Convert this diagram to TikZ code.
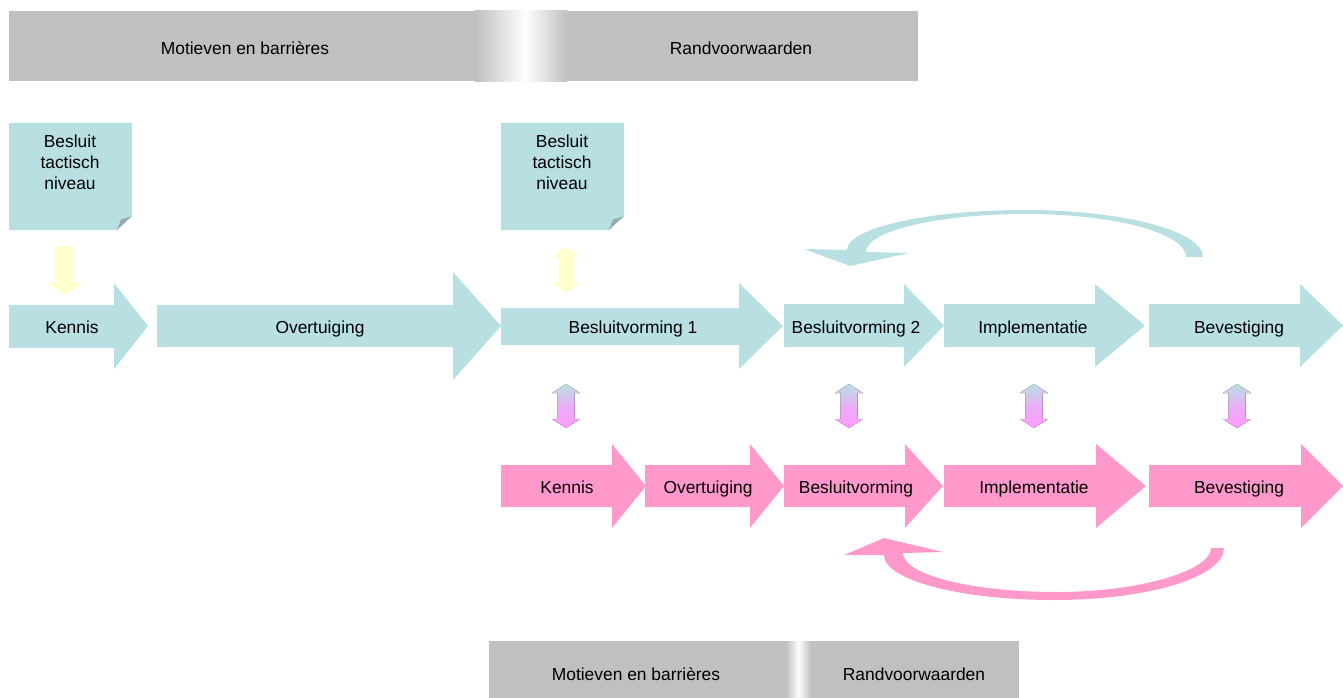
\documentclass[tikz,border=0pt]{standalone}
\usepackage{fontspec}
\setmainfont{Liberation Sans}
\definecolor{bluec}{RGB}{184,223,226}
\definecolor{pinkc}{RGB}{255,153,204}
\definecolor{grayc}{RGB}{192,192,192}
\definecolor{yellowc}{RGB}{255,255,204}
\definecolor{foldc}{RGB}{150,172,175}
\definecolor{violc}{RGB}{255,153,255}
% block arrow: style, x1, xhead, xtip, shaft top, shaft bottom, head top, head bottom
\newcommand\blockarrow[8]{\fill[#1] (#2,#5) -- (#3,#5) -- (#3,#7) -- (#4,{(#7+#8)/2}) -- (#3,#8) -- (#3,#6) -- (#2,#6) -- cycle;}
% double vertical arrow: style, cx, ytop, ybottom, half head width, half shaft width, head length
\newcommand\dblarrow[7]{\fill[#1] (#2,#3) -- ({#2+#5},{#3+#7}) -- ({#2+#6},{#3+#7}) -- ({#2+#6},{#4-#7}) -- ({#2+#5},{#4-#7}) -- (#2,#4) -- ({#2-#5},{#4-#7}) -- ({#2-#6},{#4-#7}) -- ({#2-#6},{#3+#7}) -- ({#2-#5},{#3+#7}) -- cycle;}
\begin{document}
\begin{tikzpicture}[x=1pt,y=-1pt,font=\fontsize{17.4}{21}\selectfont,
  lbl/.style={anchor=base,inner sep=0pt,text=black},
  notelbl/.style={anchor=north,inner sep=0pt,align=center,text=black},
  bluefill/.style={fill=bluec},
  pinkfill/.style={fill=pinkc},
  grayfill/.style={fill=grayc},
  foldfill/.style={fill=foldc},
  yellowfill/.style={fill=yellowc},
  mixfill/.style={top color=bluec,bottom color=violc,middle color={violc!70!bluec}}]
\useasboundingbox (0,0) rectangle (1343,698);

% ---- top bar ----
\fill[grayfill] (9,11) rectangle (476,81);
\fill[grayfill] (566,11) rectangle (918,81);
\shade[left color=grayc,right color=white] (475,11) rectangle (526,82);
\shade[left color=white,right color=grayc] (525,11) rectangle (567,82);
\node[lbl] (mot1) at (245,54.5) {Motieven en barrières};
\node[lbl] (rand1) at (741,54.5) {Randvoorwaarden};

% ---- bottom bar ----
\fill[grayfill] (489,641) rectangle (787,698);
\fill[grayfill] (810,641) rectangle (1019,698);
\shade[left color=grayc,right color=white] (786,641) rectangle (798.5,698);
\shade[left color=white,right color=grayc] (798,641) rectangle (811,698);
\node[lbl] (mot2) at (636,680) {Motieven en barrières};
\node[lbl] (rand2) at (914,680) {Randvoorwaarden};

% ---- notes ----
\fill[bluefill] (9,123) -- (132,123) -- (132,216) -- (117,230) -- (9,230) -- cycle;
\fill[foldfill] (117,230) -- (132,216) -- (121,219.5) -- cycle;
\node[notelbl] (note1) at (70,134.5) {Besluit\\tactisch\\niveau};
\fill[bluefill] (501,123) -- (624,123) -- (624,216) -- (609,230) -- (501,230) -- cycle;
\fill[foldfill] (609,230) -- (624,216) -- (613,219.5) -- cycle;
\node[notelbl] (note2) at (562,134.5) {Besluit\\tactisch\\niveau};

% ---- yellow arrows ----
\fill[yellowfill] (55,246) -- (73,246) -- (73,283) -- (83,283) -- (65,295) -- (47,283) -- (55,283) -- cycle;
\dblarrow{yellowfill}{566}{247}{293}{14}{7.5}{10}

% ---- blue row ----
\blockarrow{bluefill}{9}{114}{148}{305}{348}{283}{369}
\blockarrow{bluefill}{157}{453}{501}{305}{347}{272}{380}
\blockarrow{bluefill}{501}{739}{783}{308}{345}{283}{369}
\blockarrow{bluefill}{784}{904}{944}{304}{347}{284}{367}
\blockarrow{bluefill}{944}{1095}{1145}{304}{347}{284}{367}
\blockarrow{bluefill}{1149}{1300}{1343}{304}{347}{284}{367}
\node[lbl] (bk) at (72,333) {Kennis};
\node[lbl] (bo) at (320,333) {Overtuiging};
\node[lbl] (bb1) at (633,333) {Besluitvorming 1};
\node[lbl] (bb2) at (856,333) {Besluitvorming 2};
\node[lbl] (bi) at (1033,333) {Implementatie};
\node[lbl] (bbev) at (1239,333) {Bevestiging};

% ---- blue curved arrow ----
\fill[bluefill] (1203,257) .. controls (1203,231) and (1123,210) .. (1025,210)
  .. controls (927,210) and (847,228) .. (847,250)
  -- (804,249) -- (850,266) -- (909,253) -- (866,252)
  .. controls (866,231) and (938,214) .. (1026,214)
  .. controls (1114,214) and (1186,233) .. (1186,257) -- cycle;

% ---- connecting double arrows ----
\dblarrow{mixfill}{566}{384}{428}{14}{8.5}{9}
\dblarrow{mixfill}{849}{384}{428}{14}{8.5}{9}
\dblarrow{mixfill}{1034}{384}{428}{14}{8.5}{9}
\dblarrow{mixfill}{1237}{384}{428}{14}{8.5}{9}

% ---- pink row ----
\blockarrow{pinkfill}{501}{612}{646}{465}{507}{444}{528}
\blockarrow{pinkfill}{645}{750}{784}{465}{507}{444}{528}
\blockarrow{pinkfill}{784}{905}{943}{465}{507}{444}{528}
\blockarrow{pinkfill}{944}{1096}{1146}{465}{507}{444}{528}
\blockarrow{pinkfill}{1149}{1301}{1343}{465}{507}{444}{528}
\node[lbl] (pk) at (567,493) {Kennis};
\node[lbl] (po) at (708,493) {Overtuiging};
\node[lbl] (pb) at (856,493) {Besluitvorming};
\node[lbl] (pi) at (1034,493) {Implementatie};
\node[lbl] (pbev) at (1239,493) {Bevestiging};

% ---- pink curved arrow ----
\fill[pinkfill] (1224,548) .. controls (1224,577) and (1148,600) .. (1054,600)
  .. controls (960,600) and (884,580) .. (884,555)
  -- (844,555) -- (884,538) -- (943,552) -- (903,553)
  .. controls (903,575) and (972,592) .. (1057,592)
  .. controls (1142,592) and (1211,570) .. (1211,548) -- cycle;
\end{tikzpicture}
\end{document}
